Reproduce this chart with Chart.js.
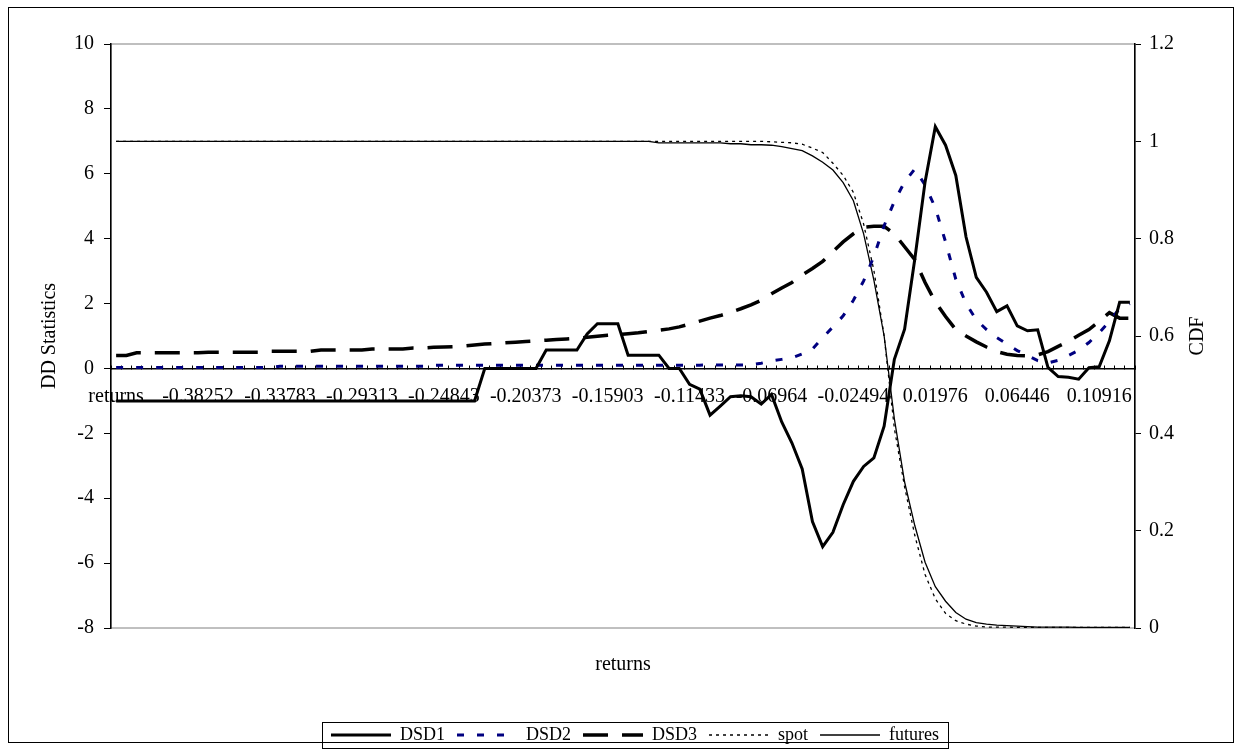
<!DOCTYPE html>
<html>
<head>
<meta charset="utf-8">
<title>DD Statistics</title>
<script src="https://cdn.jsdelivr.net/npm/chart.js@4.4.0/dist/chart.umd.min.js"></script>
<style>
  html, body { margin: 0; padding: 0; background: #fff; }
  #wrap { width: 1236px; height: 750px; }
</style>
</head>
<body>
<div id="wrap"><canvas id="ddChart" width="1236" height="750"></canvas></div>
<script>
// categories (first one is the column header, as in the sheet)
const returnsCats = ['returns',
  '-0.42163', '-0.41605', '-0.41046', '-0.40487', '-0.39928', '-0.3937', '-0.38811', '-0.38252', '-0.37693',
  '-0.37134', '-0.36576', '-0.36017', '-0.35458', '-0.349', '-0.34341', '-0.33783', '-0.33224', '-0.32666', '-0.32107',
  '-0.31548', '-0.30989', '-0.30431', '-0.29872', '-0.29313', '-0.28754', '-0.28196', '-0.27637', '-0.27078', '-0.26519',
  '-0.25961', '-0.25402', '-0.24843', '-0.24284', '-0.23726', '-0.23167', '-0.22608', '-0.22049', '-0.21491', '-0.20932',
  '-0.20373', '-0.19814', '-0.19256', '-0.18697', '-0.18138', '-0.17579', '-0.17021', '-0.16462', '-0.15903', '-0.15344',
  '-0.14786', '-0.14227', '-0.13668', '-0.13109', '-0.12551', '-0.11992', '-0.11433', '-0.10874', '-0.10316', '-0.09757',
  '-0.09198', '-0.08639', '-0.08081', '-0.07522', '-0.06964', '-0.06405', '-0.05846', '-0.05287', '-0.04729', '-0.0417',
  '-0.03611', '-0.03052', '-0.02494', '-0.01935', '-0.01376', '-0.00817', '-0.00259', '0.003', '0.00859', '0.01418',
  '0.01976', '0.02535', '0.03094', '0.03653', '0.04211', '0.0477', '0.05329', '0.05888', '0.06446', '0.07005',
  '0.07564', '0.08123', '0.08681', '0.0924', '0.09799', '0.10358', '0.10916', '0.11475', '0.12034', '0.12593'];

// DD statistics (left axis)
const dsd1 = [
  -1, -1, -1, -1, -1, -1, -1, -1, -1, -1,
  -1, -1, -1, -1, -1, -1, -1, -1, -1, -1,
  -1, -1, -1, -1, -1, -1, -1, -1, -1, -1,
  -1, -1, -1, -1, -1, -1, 0, 0, 0, 0,
  0, 0, 0.57, 0.57, 0.57, 0.57, 1.06, 1.38, 1.38, 1.38,
  0.41, 0.41, 0.41, 0.41, 0, 0, -0.49, -0.64, -1.44, -1.16,
  -0.87, -0.84, -0.87, -1.1, -0.8, -1.65, -2.3, -3.1, -4.72, -5.49,
  -5.05, -4.2, -3.48, -3.02, -2.76, -1.78, 0.28, 1.21, 3.38, 5.75,
  7.45, 6.88, 5.95, 4.05, 2.81, 2.35, 1.75, 1.93, 1.31, 1.16,
  1.19, 0.03, -0.25, -0.27, -0.33, 0.02, 0.05, 0.85, 2.04, 2.04];
const dsd2 = [
  0.03, 0.03, 0.03, 0.03, 0.03, 0.03, 0.03, 0.03, 0.03, 0.03,
  0.03, 0.03, 0.03, 0.03, 0.03, 0.03, 0.07, 0.07, 0.07, 0.07,
  0.07, 0.07, 0.07, 0.07, 0.07, 0.07, 0.07, 0.07, 0.07, 0.07,
  0.07, 0.1, 0.1, 0.1, 0.1, 0.1, 0.1, 0.1, 0.1, 0.1,
  0.1, 0.1, 0.1, 0.1, 0.1, 0.1, 0.1, 0.1, 0.1, 0.1,
  0.1, 0.1, 0.1, 0.1, 0.1, 0.1, 0.1, 0.1, 0.11, 0.11,
  0.11, 0.11, 0.11, 0.16, 0.23, 0.28, 0.33, 0.45, 0.6, 0.95,
  1.28, 1.62, 2.1, 2.7, 3.45, 4.4, 5.15, 5.75, 6.15, 5.65,
  4.95, 3.9, 2.75, 2.0, 1.5, 1.2, 0.95, 0.75, 0.55, 0.4,
  0.24, 0.17, 0.25, 0.4, 0.56, 0.8, 1.1, 1.45, 1.85, 2.0];
const dsd3 = [
  0.4, 0.4, 0.48, 0.48, 0.48, 0.48, 0.48, 0.48, 0.48, 0.5,
  0.5, 0.5, 0.5, 0.5, 0.5, 0.53, 0.53, 0.53, 0.53, 0.53,
  0.57, 0.57, 0.57, 0.57, 0.57, 0.6, 0.6, 0.6, 0.6, 0.63,
  0.63, 0.65, 0.66, 0.67, 0.69, 0.72, 0.75, 0.77, 0.79, 0.81,
  0.83, 0.85, 0.87, 0.89, 0.91, 0.93, 0.96, 0.99, 1.02, 1.04,
  1.07, 1.1, 1.14, 1.18, 1.22, 1.28, 1.37, 1.46, 1.55, 1.63,
  1.73, 1.84, 1.96, 2.1, 2.3, 2.48, 2.65, 2.88, 3.08, 3.3,
  3.6, 3.9, 4.15, 4.35, 4.38, 4.38, 4.15, 3.75, 3.35, 2.65,
  2.05, 1.6, 1.2, 1.0, 0.82, 0.66, 0.52, 0.44, 0.4, 0.39,
  0.42, 0.52, 0.68, 0.83, 1.02, 1.2, 1.45, 1.72, 1.55, 1.55];

// CDF (right axis)
const spot = [
  1, 1, 1, 1, 1, 1, 1, 1, 1, 1,
  1, 1, 1, 1, 1, 1, 1, 1, 1, 1,
  1, 1, 1, 1, 1, 1, 1, 1, 1, 1,
  1, 1, 1, 1, 1, 1, 1, 1, 1, 1,
  1, 1, 1, 1, 1, 1, 1, 1, 1, 1,
  1, 1, 1, 1, 1, 1, 1, 1, 1, 1,
  1, 1, 1, 1, 0.999, 0.998, 0.997, 0.994, 0.986, 0.977,
  0.955, 0.93, 0.895, 0.83, 0.735, 0.6, 0.41, 0.29, 0.19, 0.11,
  0.06, 0.03, 0.015, 0.008, 0.004, 0.002, 0.002, 0.002, 0.001, 0.001,
  0.001, 0.001, 0.001, 0.001, 0.001, 0.001, 0.001, 0.001, 0.001, 0.001];
const futures = [
  1, 1, 1, 1, 1, 1, 1, 1, 1, 1,
  1, 1, 1, 1, 1, 1, 1, 1, 1, 1,
  1, 1, 1, 1, 1, 1, 1, 1, 1, 1,
  1, 1, 1, 1, 1, 1, 1, 1, 1, 1,
  1, 1, 1, 1, 1, 1, 1, 1, 1, 1,
  1, 1, 1, 0.997, 0.997, 0.997, 0.997, 0.997, 0.997, 0.997,
  0.995, 0.995, 0.993, 0.993, 0.992, 0.989, 0.985, 0.981, 0.97, 0.957,
  0.941, 0.915, 0.878, 0.81, 0.715, 0.6, 0.43, 0.3, 0.21, 0.135,
  0.085, 0.055, 0.032, 0.018, 0.011, 0.008, 0.006, 0.005, 0.004, 0.003,
  0.002, 0.002, 0.002, 0.002, 0.001, 0.001, 0.001, 0.001, 0.001, 0.001];

// tick labels
const ddTicks = [-8, -6, -4, -2, 0, 2, 4, 6, 8, 10];
const cdfTicks = [0, 0.2, 0.4, 0.6, 0.8, 1, 1.2];
const labelEvery = 8;

Chart.defaults.font.family = "'Liberation Serif', 'Times New Roman', serif";
Chart.defaults.color = '#000';

// frame of the chart, plot area border, CDF title and legend box
const framePlugin = {
    id: 'framePlugin',
    beforeDraw(chart) {
        const ctx = chart.ctx;
        const a = chart.chartArea;
        ctx.save();
        ctx.fillStyle = '#fff';
        ctx.fillRect(0, 0, chart.width, chart.height);
        ctx.strokeStyle = '#000';
        ctx.lineWidth = 1;
        ctx.strokeRect(8.5, 7.5, chart.width - 11, chart.height - 15);
        ctx.strokeStyle = '#808080';
        ctx.strokeRect(a.left, a.top, a.right - a.left, a.bottom - a.top);
        ctx.restore();
    },
    afterDraw(chart) {
        const ctx = chart.ctx;
        const a = chart.chartArea;
        ctx.save();
        // secondary axis title, reads bottom to top like the left one
        ctx.translate(chart.scales.y1.right - 38, (a.top + a.bottom) / 2);
        ctx.rotate(-Math.PI / 2);
        ctx.font = "20px 'Liberation Serif', serif";
        ctx.fillStyle = '#000';
        ctx.textAlign = 'center';
        ctx.textBaseline = 'middle';
        ctx.fillText('CDF', 0, 0);
        ctx.restore();

        const hits = chart.legend.legendHitBoxes;
        if (hits && hits.length) {
            const first = hits[0];
            const last = hits[hits.length - 1];
            const x0 = Math.round(first.left - 9) + 0.5;
            const x1 = Math.round(last.left + last.width + 9) + 0.5;
            const y0 = Math.round(first.top - 4) + 0.5;
            const y1 = Math.round(first.top + first.height + 4) + 0.5;
            ctx.save();
            ctx.strokeStyle = '#000';
            ctx.lineWidth = 1;
            ctx.strokeRect(x0, y0, x1 - x0, y1 - y0);
            ctx.restore();
        }
    }
};

const ctx = document.getElementById('ddChart').getContext('2d');
const ddChart = new Chart(ctx, {
    type: 'line',
    data: {
        labels: returnsCats,
        datasets: [{
            label: 'DSD1',
            data: dsd1,
            yAxisID: 'y',
            borderColor: '#000',
            borderWidth: 3
        }, {
            label: 'DSD2',
            data: dsd2,
            yAxisID: 'y',
            borderColor: '#000080',
            borderWidth: 3,
            borderDash: [7, 13]
        }, {
            label: 'DSD3',
            data: dsd3,
            yAxisID: 'y',
            borderColor: '#000',
            borderWidth: 3.5,
            borderDash: [25, 14]
        }, {
            label: 'spot',
            data: spot,
            yAxisID: 'y1',
            borderColor: '#000',
            borderWidth: 1.3,
            borderDash: [3, 4]
        }, {
            label: 'futures',
            data: futures,
            yAxisID: 'y1',
            borderColor: '#000',
            borderWidth: 1.3
        }]
    },
    options: {
        responsive: false,
        animation: false,
        devicePixelRatio: 1,
        layout: {
            padding: { top: 44, left: 34, right: 0, bottom: -4 }
        },
        elements: {
            line: { tension: 0, fill: false },
            point: { radius: 0, hoverRadius: 0 }
        },
        plugins: {
            tooltip: { enabled: false },
            title: {
                display: true,
                text: 'returns',
                position: 'bottom',
                fullSize: false,
                weight: 500,
                font: { size: 20, weight: 'normal' },
                padding: { top: 25, bottom: 37 }
            },
            legend: {
                display: true,
                position: 'bottom',
                labels: {
                    usePointStyle: true,
                    pointStyle: 'line',
                    pointStyleWidth: 60,
                    padding: 12,
                    font: { size: 18 },
                    // line samples keep the dash pattern of their series
                    generateLabels: chart => {
                        const items = Chart.defaults.plugins.legend.labels.generateLabels(chart);
                        items.forEach(item => {
                            const ds = chart.data.datasets[item.datasetIndex];
                            item.lineDash = ds.borderDash || [];
                            item.lineWidth = ds.borderWidth;
                            item.strokeStyle = ds.borderColor;
                            item.lineCap = 'butt';
                        });
                        return items;
                    }
                }
            }
        },
        scales: {
            x: {
                position: { y: 0 },
                offset: true,
                grid: {
                    display: true,
                    drawOnChartArea: false,
                    offset: true,
                    tickLength: -4,
                    color: '#000'
                },
                border: { color: '#000', width: 1.5 },
                ticks: {
                    autoSkip: false,
                    maxRotation: 0,
                    minRotation: 0,
                    padding: 20,
                    font: { size: 20 },
                    callback: function (value, index) {
                        return index % labelEvery === 0 ? this.getLabelForValue(value) : '';
                    }
                }
            },
            y: {
                position: 'left',
                min: -8,
                max: 10,
                afterBuildTicks: scale => { scale.ticks = ddTicks.map(v => ({ value: v })); },
                afterFit: scale => { scale.width = 77; },
                grid: { drawOnChartArea: false, tickLength: 7, color: '#000' },
                border: { color: '#000', width: 1.5 },
                ticks: { padding: 10, font: { size: 20 } },
                title: {
                    display: true,
                    text: 'DD Statistics',
                    font: { size: 20 },
                    padding: { top: 4, bottom: 0 }
                }
            },
            y1: {
                position: 'right',
                min: 0,
                max: 1.2,
                afterBuildTicks: scale => { scale.ticks = cdfTicks.map(v => ({ value: v })); },
                afterFit: scale => { scale.width = 101; },
                grid: { drawOnChartArea: false, tickLength: 6, color: '#000' },
                border: { color: '#000', width: 1.5 },
                ticks: {
                    padding: 8,
                    font: { size: 20 },
                    callback: value => String(value)
                }
            }
        }
    },
    plugins: [framePlugin]
});
</script>
</body>
</html>
